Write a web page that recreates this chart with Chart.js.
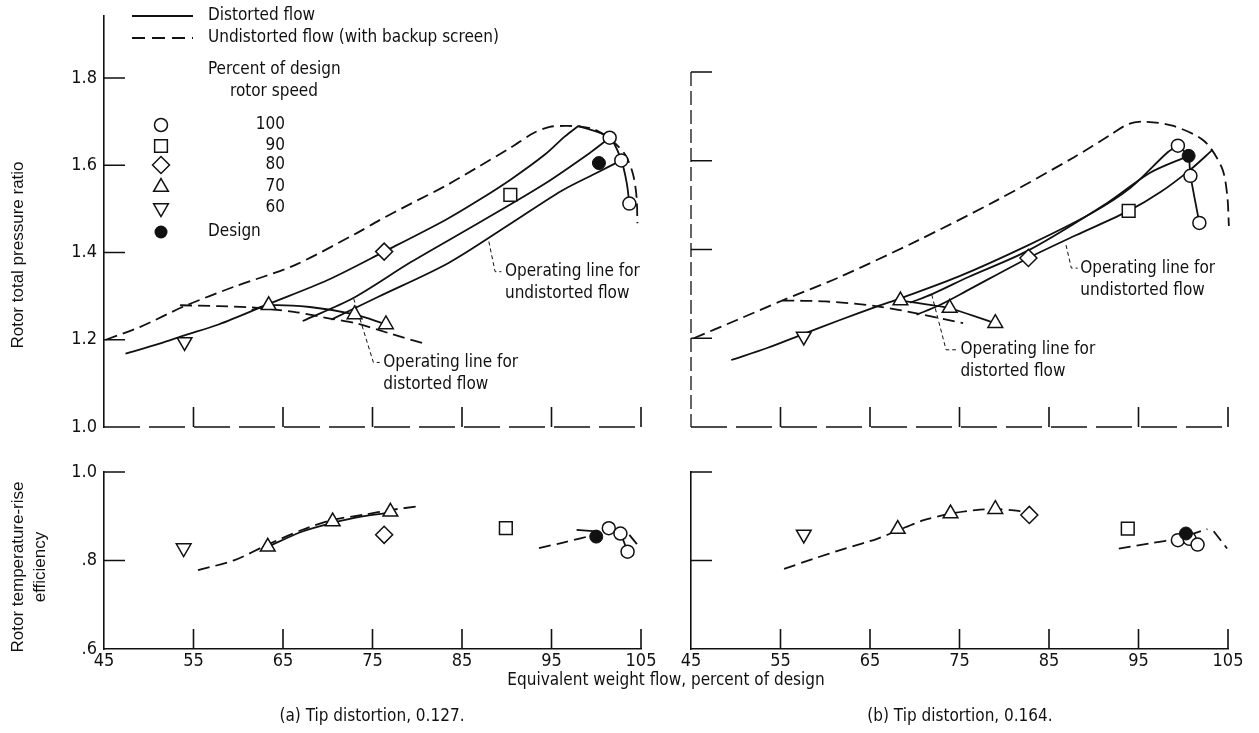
<!DOCTYPE html>
<html>
<head>
<meta charset="utf-8">
<title>Rotor performance with tip distortion</title>
<script src="https://cdn.jsdelivr.net/npm/chart.js@4.4.1/dist/chart.umd.min.js"></script>
<style>
  html, body { margin: 0; padding: 0; background: #fff; }
  #fig { position: relative; width: 1259px; height: 733px; overflow: hidden; }
  #fig canvas { position: absolute; left: 0; top: 0; }
</style>
</head>
<body>
<div id="fig">
  <canvas id="ratioA" width="1259" height="733"></canvas>
  <canvas id="ratioB" width="1259" height="733"></canvas>
  <canvas id="effA" width="1259" height="733"></canvas>
  <canvas id="effB" width="1259" height="733"></canvas>
</div>
<script>
// Axis ticks
const flowTicks = [45, 55, 65, 75, 85, 95, 105];
const ratioTicks = [1.0, 1.2, 1.4, 1.6, 1.8];
const effTicks = [0.6, 0.8, 1.0];
const speedLabels = ['100', '90', '80', '70', '60'];

// (a) Tip distortion 0.127 - pressure ratio
const aSurgeUndist = [[45.2, 1.200], [49.0, 1.229], [54.0, 1.277], [59.6, 1.322], [66.2, 1.370], [73.3, 1.445],
  [75.7, 1.473], [79.3, 1.512], [83.1, 1.552], [86.8, 1.596], [90.5, 1.641], [93.0, 1.674], [94.8, 1.688],
  [96.5, 1.690], [98.0, 1.689], [99.8, 1.682], [101.6, 1.659], [103.2, 1.625], [104.1, 1.580], [104.5, 1.528], [104.6, 1.467]];
const aSpeed70Undist = [[53.5, 1.279], [57.8, 1.277], [61.5, 1.274], [66.2, 1.264], [70.4, 1.248], [73.3, 1.237], [77.0, 1.214], [80.8, 1.191]];
const aSurgeDist = [[47.4, 1.168], [51.2, 1.191], [54.0, 1.210], [57.8, 1.235], [63.4, 1.282], [70.0, 1.337], [76.3, 1.402],
  [83.1, 1.474], [86.8, 1.519], [90.5, 1.568], [94.3, 1.625], [96.5, 1.666], [98.0, 1.690]];
const aSpeed100Dist = [[98.0, 1.690], [101.5, 1.663], [102.8, 1.611], [103.4, 1.560], [103.7, 1.512]];
const aOpLineDist = [[67.2, 1.243], [72.8, 1.295], [79.3, 1.378], [86.8, 1.467], [94.2, 1.557], [99.4, 1.630], [101.5, 1.663]];
const aOpLineUndist = [[70.4, 1.246], [75.6, 1.298], [83.5, 1.376], [90.5, 1.467], [96.1, 1.541], [99.8, 1.580], [102.8, 1.611]];
const aSpeed70Dist = [[61.5, 1.268], [63.4, 1.279], [68.0, 1.275], [73.0, 1.258], [76.5, 1.235]];
const aLeaderUndist = [[88.0, 1.425], [88.7, 1.356], [89.4, 1.356]];
const aLeaderDist = [[72.9, 1.294], [75.1, 1.148], [75.8, 1.148]];
const aPts60 = [[54.0, 1.195]];
const aPts70 = [[63.4, 1.279], [73.0, 1.258], [76.5, 1.235]];
const aPts80 = [[76.3, 1.402]];
const aPts90 = [[90.4, 1.532]];
const aPts100 = [[101.5, 1.663], [102.8, 1.611], [103.7, 1.512]];
const aDesign = [[100.3, 1.605]];

// (b) Tip distortion 0.164 - pressure ratio
const bSurgeUndist = [[45.3, 1.200], [50.0, 1.240], [55.2, 1.285], [61.4, 1.336], [70.2, 1.419], [79.0, 1.509],
  [87.8, 1.608], [92.0, 1.660], [93.9, 1.683], [95.7, 1.688], [98.8, 1.679], [102.3, 1.645], [104.3, 1.585],
  [104.9, 1.525], [105.1, 1.453]];
const bSpeed70Undist = [[55.2, 1.285], [60.0, 1.283], [65.8, 1.272], [70.5, 1.255], [75.4, 1.234]];
const bSurgeDist = [[49.5, 1.151], [53.5, 1.178], [57.6, 1.210], [61.5, 1.240], [65.8, 1.272], [68.4, 1.290], [75.0, 1.340],
  [82.7, 1.410], [89.6, 1.480], [94.1, 1.539], [98.2, 1.618], [99.4, 1.634]];
const bOpLineDist = [[69.5, 1.280], [72.0, 1.300], [76.0, 1.338], [82.7, 1.398], [91.5, 1.505], [96.3, 1.573], [100.6, 1.611]];
const bOpLineUndist = [[70.2, 1.253], [72.8, 1.275], [76.0, 1.309], [82.7, 1.381], [88.0, 1.432], [93.9, 1.487],
  [97.5, 1.530], [100.8, 1.580], [103.3, 1.625]];
const bSpeed70Dist = [[68.4, 1.285], [73.9, 1.268], [79.0, 1.234]];
const bSpeed100Dist = [[99.4, 1.634], [100.6, 1.611], [100.8, 1.566], [101.8, 1.460]];
const bLeaderUndist = [[86.9, 1.410], [87.5, 1.358], [88.2, 1.358]];
const bLeaderDist = [[71.9, 1.298], [73.5, 1.174], [74.6, 1.174]];
const bPts60 = [[57.6, 1.204]];
const bPts70 = [[68.4, 1.285], [73.9, 1.268], [79.0, 1.234]];
const bPts80 = [[82.7, 1.381]];
const bPts90 = [[93.9, 1.487]];
const bPts100 = [[99.4, 1.634], [100.8, 1.566], [101.8, 1.460]];
const bDesign = [[100.6, 1.611]];

// (a) efficiency
const aEff70Undist = [[55.5, 0.778], [59.6, 0.801], [63.4, 0.837], [67.1, 0.869], [70.4, 0.891], [74.2, 0.904], [77.0, 0.914], [80.3, 0.923]];
const aEff70Dist = [[63.3, 0.831], [67.1, 0.865], [70.55, 0.885], [73.7, 0.899], [77.0, 0.908]];
const aEff100Undist = [[93.6, 0.828], [96.2, 0.840], [99.0, 0.854], [100.4, 0.863]];
const aEff100Tail = [[103.7, 0.858], [104.9, 0.828]];
const aEff100Dist = [[101.4, 0.873], [102.7, 0.861], [103.5, 0.820]];
const aEffNearDesign = [[97.8, 0.869], [100.0, 0.866]];
const aEff60 = [[53.9, 0.828]];
const aEff70 = [[63.3, 0.831], [70.55, 0.888], [77.0, 0.910]];
const aEff80 = [[76.3, 0.858]];
const aEff90 = [[89.9, 0.873]];
const aEff100 = [[101.4, 0.873], [102.7, 0.861], [103.5, 0.820]];
const aEffDesign = [[100.0, 0.854]];

// (b) efficiency
const bEff70Undist = [[55.4, 0.781], [58.7, 0.804], [62.2, 0.827], [65.8, 0.849], [68.1, 0.868], [71.0, 0.891], [74.0, 0.906],
  [76.8, 0.914], [79.0, 0.916], [81.6, 0.912], [82.8, 0.903]];
const bEff100Undist = [[92.8, 0.827], [96.6, 0.840], [99.2, 0.849], [102.7, 0.871]];
const bEff100Tail = [[103.4, 0.866], [104.9, 0.827]];
const bEff60 = [[57.6, 0.859]];
const bEff70 = [[68.1, 0.871], [74.0, 0.906], [79.0, 0.916]];
const bEff80 = [[82.8, 0.903]];
const bEff90 = [[93.8, 0.872]];
const bEff100 = [[99.4, 0.846], [100.7, 0.849], [101.6, 0.836]];
const bEffDesign = [[100.3, 0.861]];

const ink = '#111';
const lettering = "'Liberation Sans Narrow', 'DejaVu Sans Condensed', 'Noto Sans', sans-serif";
const titleFace = "'Liberation Sans', 'DejaVu Sans', sans-serif";
const textFont = `17px ${lettering}`;
const W = 1259, H = 733;

// marker look for each speed
const speedMarks = {
  100: { pointStyle: 'circle', radius: 6.5, rotation: 0 },
  90: { pointStyle: 'rect', radius: 9, rotation: 0 },
  80: { pointStyle: 'rectRot', radius: 8.5, rotation: 0 },
  70: { pointStyle: 'triangle', radius: 8.5, rotation: 0 },
  60: { pointStyle: 'triangle', radius: 8.5, rotation: 180 },
};

const xy = (pts) => pts.map(([x, y]) => ({ x, y }));

const curve = (pts, dashed, tension = 0.3) => ({
  data: xy(pts),
  showLine: true,
  borderColor: ink,
  borderWidth: 1.8,
  borderDash: dashed ? [12, 6] : [],
  pointRadius: 0,
  tension,
  clip: false,
  order: 3,
});

const leader = (pts) => ({
  data: xy(pts),
  showLine: true,
  borderColor: ink,
  borderWidth: 1,
  borderDash: [4, 3],
  pointRadius: 0,
  tension: 0,
  clip: false,
  order: 3,
});

const marks = (pts, speed) => {
  const m = speedMarks[speed];
  return {
    data: xy(pts),
    showLine: false,
    pointStyle: m.pointStyle,
    pointRadius: m.radius,
    pointRotation: m.rotation,
    pointBackgroundColor: '#fff',
    pointBorderColor: ink,
    pointBorderWidth: 1.5,
    clip: false,
    order: 1,
  };
};

const design = (pts) => ({
  data: xy(pts),
  showLine: false,
  pointStyle: 'circle',
  pointRadius: 6.5,
  pointBackgroundColor: ink,
  pointBorderColor: ink,
  pointBorderWidth: 1,
  clip: false,
  order: 0,
});

function drawKey(ctx) {
  ctx.lineWidth = 1.8;
  ctx.beginPath();
  ctx.moveTo(132, 16);
  ctx.lineTo(193, 16);
  ctx.stroke();
  ctx.setLineDash([13, 7]);
  ctx.beginPath();
  ctx.moveTo(132, 38);
  ctx.lineTo(193, 38);
  ctx.stroke();
  ctx.setLineDash([]);

  ctx.font = textFont;
  ctx.textAlign = 'left';
  ctx.fillText('Distorted flow', 208, 16);
  ctx.fillText('Undistorted flow (with backup screen)', 208, 38);
  ctx.fillText('Percent of design', 208, 70);
  ctx.fillText('rotor speed', 230, 92);
  ctx.fillText('Design', 208, 232);

  const rowY = [125, 146, 165, 187, 208];
  ctx.textAlign = 'right';
  speedLabels.forEach((s, i) => {
    ctx.fillText(s, 285, rowY[i]);
    const m = speedMarks[s];
    ctx.save();
    ctx.fillStyle = '#fff';
    ctx.lineWidth = 1.5;
    Chart.helpers.drawPoint(ctx, { pointStyle: m.pointStyle, radius: m.radius, rotation: m.rotation, borderWidth: 1.5 }, 161, rowY[i]);
    ctx.restore();
  });
  ctx.beginPath();
  ctx.arc(161, 232, 6.5, 0, Math.PI * 2);
  ctx.fill();
}

// broken axis lines, inward tick stubs, notes, figure text and key
const panelDecor = {
  id: 'panelDecor',
  afterDraw(chart, args, o) {
    const { ctx, chartArea: a } = chart;
    const x = chart.scales.x;
    const y = chart.scales.y;
    ctx.save();
    ctx.strokeStyle = ink;
    ctx.fillStyle = ink;

    if (o.xDash) {
      ctx.lineWidth = 1.6;
      ctx.setLineDash(o.xDash);
      ctx.beginPath();
      ctx.moveTo(x.getPixelForValue(45), a.bottom);
      ctx.lineTo(x.getPixelForValue(105), a.bottom);
      ctx.stroke();
    }
    if (o.yDash) {
      ctx.lineWidth = 1.3;
      ctx.setLineDash(o.yDash);
      ctx.beginPath();
      ctx.moveTo(a.left, a.top);
      ctx.lineTo(a.left, a.bottom);
      ctx.stroke();
    }
    ctx.setLineDash([]);

    ctx.lineWidth = 1.6;
    ctx.beginPath();
    (o.xStubs || []).forEach((v) => {
      const px = x.getPixelForValue(v);
      ctx.moveTo(px, a.bottom);
      ctx.lineTo(px, a.bottom - 20);
    });
    (o.yStubs || []).forEach((v) => {
      const py = y.getPixelForValue(v);
      ctx.moveTo(a.left, py);
      ctx.lineTo(a.left + 21, py);
    });
    ctx.stroke();

    ctx.font = textFont;
    ctx.textBaseline = 'middle';
    ctx.textAlign = 'left';
    (o.notes || []).forEach((n) => {
      const px = x.getPixelForValue(n.x);
      const py = y.getPixelForValue(n.y);
      n.lines.forEach((t, i) => ctx.fillText(t, px, py + i * 22));
    });

    (o.labels || []).forEach((l) => {
      ctx.save();
      ctx.font = l.font || textFont;
      ctx.textAlign = 'center';
      ctx.translate(l.x, l.y);
      if (l.rot) ctx.rotate(-Math.PI / 2);
      ctx.fillText(l.text, 0, 0);
      ctx.restore();
    });

    if (o.key) drawKey(ctx);
    ctx.restore();
  },
};

const tickFont = { family: lettering, size: 18, lineHeight: 1 };

function panel(id, box, yMin, yMax, yTickVals, yFmt, showFlowLabels, datasets, deco) {
  const yWidth = yFmt ? 60 : 0;
  const xHeight = showFlowLabels ? 30 : 0;
  return new Chart(document.getElementById(id), {
    type: 'scatter',
    data: { datasets },
    options: {
      responsive: false,
      animation: false,
      events: [],
      layout: {
        padding: {
          left: box.left - yWidth,
          right: W - box.right,
          top: box.top,
          bottom: H - box.bottom - xHeight,
        },
      },
      plugins: {
        legend: { display: false },
        tooltip: { enabled: false },
        panelDecor: deco,
      },
      scales: {
        x: {
          type: 'linear',
          min: 45,
          max: 105,
          afterBuildTicks: (s) => { s.ticks = flowTicks.map((v) => ({ value: v })); },
          afterFit: (s) => { s.height = xHeight; },
          grid: { display: false, drawTicks: false },
          border: { display: !deco.xDash, color: ink, width: 1.6 },
          ticks: {
            display: showFlowLabels,
            padding: 3,
            maxRotation: 0,
            autoSkip: false,
            color: ink,
            font: tickFont,
            callback: (v) => String(v),
          },
        },
        y: {
          type: 'linear',
          min: yMin,
          max: yMax,
          afterBuildTicks: (s) => { s.ticks = yTickVals.map((v) => ({ value: v })); },
          afterFit: (s) => { s.width = yWidth; },
          grid: { display: false, drawTicks: false },
          border: { display: !deco.yDash, color: ink, width: 1.6 },
          ticks: {
            display: !!yFmt,
            padding: 7,
            autoSkip: false,
            color: ink,
            font: tickFont,
            callback: yFmt || (() => ''),
          },
        },
      },
    },
    plugins: [panelDecor],
  });
}

const ratioFmt = (v) => v.toFixed(1);
const effFmt = (v) => (v >= 1 ? '1.0' : '.' + Math.round(v * 10));
const stubFlows = flowTicks.slice(1);

// pressure ratio, tip distortion 0.127
panel('ratioA', { left: 104, right: 641, top: 9, bottom: 427 }, 1.0, 1.942, ratioTicks, ratioFmt, false, [
  design(aDesign),
  marks(aPts100, 100), marks(aPts90, 90), marks(aPts80, 80), marks(aPts70, 70), marks(aPts60, 60),
  curve(aSurgeUndist, true),
  curve(aSpeed70Undist, true),
  curve(aSurgeDist, false),
  curve(aSpeed100Dist, false),
  curve(aOpLineDist, false),
  curve(aOpLineUndist, false),
  curve(aSpeed70Dist, false),
  leader(aLeaderUndist),
  leader(aLeaderDist),
], {
  xStubs: stubFlows,
  yStubs: [1.2, 1.4, 1.6, 1.8],
  xDash: [36, 9],
  key: true,
  notes: [
    { x: 89.8, y: 1.356, lines: ['Operating line for', 'undistorted flow'] },
    { x: 76.2, y: 1.148, lines: ['Operating line for', 'distorted flow'] },
  ],
  labels: [
    { text: 'Rotor total pressure ratio', x: 18, y: 255, rot: true, font: `17px ${titleFace}` },
  ],
});

// pressure ratio, tip distortion 0.164
panel('ratioB', { left: 691, right: 1228, top: 72, bottom: 427 }, 1.0, 1.8, ratioTicks, null, false, [
  design(bDesign),
  marks(bPts100, 100), marks(bPts90, 90), marks(bPts80, 80), marks(bPts70, 70), marks(bPts60, 60),
  curve(bSurgeUndist, true),
  curve(bSpeed70Undist, true),
  curve(bSurgeDist, false),
  curve(bOpLineDist, false),
  curve(bOpLineUndist, false),
  curve(bSpeed70Dist, false, 0.1),
  curve(bSpeed100Dist, false, 0.1),
  leader(bLeaderUndist),
  leader(bLeaderDist),
], {
  xStubs: stubFlows,
  yStubs: [1.2, 1.4, 1.6, 1.8],
  xDash: [36, 9],
  yDash: [14, 5],
  notes: [
    { x: 88.5, y: 1.358, lines: ['Operating line for', 'undistorted flow'] },
    { x: 75.1, y: 1.174, lines: ['Operating line for', 'distorted flow'] },
  ],
});

// efficiency, tip distortion 0.127
panel('effA', { left: 104, right: 641, top: 472, bottom: 649 }, 0.6, 1.0, effTicks, effFmt, true, [
  design(aEffDesign),
  marks(aEff100, 100), marks(aEff90, 90), marks(aEff80, 80), marks(aEff70, 70), marks(aEff60, 60),
  curve(aEff70Undist, true),
  curve(aEff70Dist, false),
  curve(aEff100Undist, true),
  curve(aEff100Tail, true, 0),
  curve(aEff100Dist, false, 0.1),
  curve(aEffNearDesign, false, 0),
], {
  xStubs: stubFlows,
  yStubs: [0.8, 1.0],
  labels: [
    { text: 'Rotor temperature-rise', x: 18, y: 567, rot: true, font: `17px ${titleFace}` },
    { text: 'efficiency', x: 40, y: 567, rot: true, font: `17px ${titleFace}` },
    { text: 'Equivalent weight flow, percent of design', x: 666, y: 681 },
    { text: '(a) Tip distortion, 0.127.', x: 372, y: 717 },
  ],
});

// efficiency, tip distortion 0.164
panel('effB', { left: 691, right: 1228, top: 472, bottom: 649 }, 0.6, 1.0, effTicks, null, true, [
  design(bEffDesign),
  marks(bEff100, 100), marks(bEff90, 90), marks(bEff80, 80), marks(bEff70, 70), marks(bEff60, 60),
  curve(bEff70Undist, true),
  curve(bEff100Undist, true),
  curve(bEff100Tail, true, 0),
], {
  xStubs: stubFlows,
  yStubs: [0.8, 1.0],
  labels: [
    { text: '(b) Tip distortion, 0.164.', x: 960, y: 717 },
  ],
});
</script>
</body>
</html>
